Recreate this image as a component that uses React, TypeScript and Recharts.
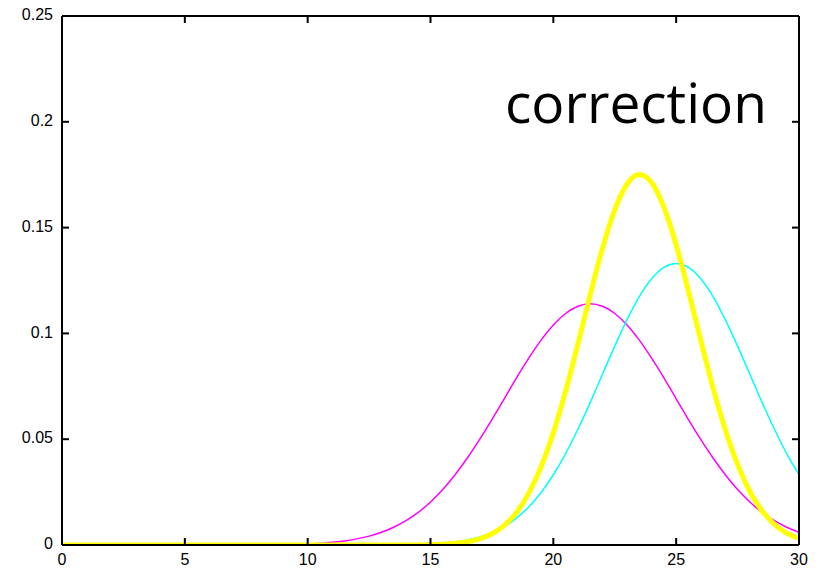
import React from 'react';
import { LineChart, Line, XAxis, YAxis } from 'recharts';

const xValues: number[] = [
  0, 0.5, 1, 1.5, 2, 2.5, 3, 3.5, 4, 4.5, 5, 5.5, 6, 6.5, 7, 7.5, 8, 8.5, 9, 9.5,
  10, 10.5, 11, 11.5, 12, 12.5, 13, 13.5, 14, 14.5, 15, 15.5, 16, 16.5, 17, 17.5, 18, 18.5, 19, 19.5,
  20, 20.5, 21, 21.5, 22, 22.5, 23, 23.5, 24, 24.5, 25, 25.5, 26, 26.5, 27, 27.5, 28, 28.5, 29, 29.5, 30,
];

const magentaValues: number[] = [
  0, 0, 0, 0, 0, 0, 0, 0, 0, 0, 0, 0, 0, 0, 0, 0, 0, 0, 0.0002, 0.0003,
  0.0005, 0.0008, 0.0013, 0.0019, 0.0029, 0.0042, 0.006, 0.0084, 0.0115, 0.0154, 0.0203, 0.0262, 0.0332, 0.0411, 0.0499, 0.0593, 0.0691, 0.079, 0.0883, 0.0968,
  0.104, 0.1094, 0.1128, 0.114, 0.1128, 0.1094, 0.104, 0.0968, 0.0883, 0.079, 0.0691, 0.0593, 0.0499, 0.0411, 0.0332, 0.0262, 0.0203, 0.0154, 0.0115, 0.0084, 0.006,
];

const cyanValues: number[] = [
  0, 0, 0, 0, 0, 0, 0, 0, 0, 0, 0, 0, 0, 0, 0, 0, 0, 0, 0, 0,
  0, 0, 0, 0, 0, 0, 0, 0, 0.0002, 0.0003, 0.0005, 0.0009, 0.0015, 0.0024, 0.0038, 0.0058, 0.0087, 0.0127, 0.018, 0.0248,
  0.0332, 0.0432, 0.0547, 0.0673, 0.0807, 0.094, 0.1065, 0.1174, 0.1258, 0.1312, 0.133, 0.1312, 0.1258, 0.1174, 0.1065, 0.094, 0.0807, 0.0673, 0.0547, 0.0432, 0.0332,
];

const yellowValues: number[] = [
  0, 0, 0, 0, 0, 0, 0, 0, 0, 0, 0, 0, 0, 0, 0, 0, 0, 0, 0, 0,
  0, 0, 0, 0, 0, 0, 0, 0, 0, 0, 0.0002, 0.0004, 0.0008, 0.0015, 0.0029, 0.0053, 0.0093, 0.0154, 0.0245, 0.0369,
  0.0531, 0.0727, 0.095, 0.1182, 0.1402, 0.1584, 0.1706, 0.1751, 0.1713, 0.1596, 0.1418, 0.12, 0.0968, 0.0744, 0.0545, 0.0381, 0.0253, 0.0161, 0.0097, 0.0056, 0.0031,
];

const xTicks: number[] = [0, 5, 10, 15, 20, 25, 30];
const yTicks: number[] = [0, 0.05, 0.1, 0.15, 0.2, 0.25];
const yTickLabels: string[] = ['0', '0.05', '0.1', '0.15', '0.2', '0.25'];
const annotation = 'correction';

const data = xValues.map((x, i) => ({
  x,
  m: magentaValues[i],
  c: cyanValues[i],
  y: yellowValues[i],
}));

const TICK_LEN = 7;
const labelFont = { fontFamily: '"Liberation Sans", Arial, sans-serif', fontSize: 16, fill: '#000' };

const BottomTick = (props: any) => {
  const { x, y, payload } = props;
  return (
    <g>
      <line x1={x} x2={x} y1={y} y2={y - TICK_LEN} stroke="#000" strokeWidth={2} />
      <text x={x} y={y + 16} textAnchor="middle" dominantBaseline="middle" {...labelFont}>
        {String(payload.value)}
      </text>
    </g>
  );
};

const TopTick = (props: any) => {
  const { x, y } = props;
  return <line x1={x} x2={x} y1={y} y2={y + TICK_LEN} stroke="#000" strokeWidth={2} />;
};

const LeftTick = (props: any) => {
  const { x, y, payload } = props;
  const idx = yTicks.indexOf(payload.value);
  const label = idx >= 0 ? yTickLabels[idx] : String(payload.value);
  return (
    <g>
      <line x1={x} x2={x + TICK_LEN} y1={y} y2={y} stroke="#000" strokeWidth={2} />
      <text x={x - 9} y={y} textAnchor="end" dominantBaseline="middle" {...labelFont}>
        {label}
      </text>
    </g>
  );
};

const RightTick = (props: any) => {
  const { x, y } = props;
  return <line x1={x} x2={x - TICK_LEN} y1={y} y2={y} stroke="#000" strokeWidth={2} />;
};

export default function App() {
  return (
    <div style={{ position: 'absolute', left: 0, top: 0, width: 821, height: 570, background: '#fff' }}>
      <LineChart width={821} height={570} data={data} margin={{ top: 15, right: 21, bottom: 0, left: 0 }}>
        <XAxis
          xAxisId="bottom"
          dataKey="x"
          type="number"
          domain={[0, 30]}
          ticks={xTicks}
          height={25}
          tickSize={0}
          tickMargin={0}
          tickLine={false}
          axisLine={{ stroke: '#000', strokeWidth: 2 }}
          tick={<BottomTick />}
          interval={0}
          allowDataOverflow
        />
        <XAxis
          xAxisId="top"
          orientation="top"
          dataKey="x"
          type="number"
          domain={[0, 30]}
          ticks={xTicks}
          height={1}
          tickSize={0}
          tickMargin={0}
          tickLine={false}
          axisLine={{ stroke: '#000', strokeWidth: 2 }}
          tick={<TopTick />}
          interval={0}
          allowDataOverflow
        />
        <YAxis
          yAxisId="left"
          type="number"
          domain={[0, 0.25]}
          ticks={yTicks}
          width={62}
          tickSize={0}
          tickMargin={0}
          tickLine={false}
          axisLine={{ stroke: '#000', strokeWidth: 2 }}
          tick={<LeftTick />}
          interval={0}
          allowDataOverflow
        />
        <YAxis
          yAxisId="right"
          orientation="right"
          type="number"
          domain={[0, 0.25]}
          ticks={yTicks}
          width={1}
          tickSize={0}
          tickMargin={0}
          tickLine={false}
          axisLine={{ stroke: '#000', strokeWidth: 2 }}
          tick={<RightTick />}
          interval={0}
          allowDataOverflow
        />
        <Line
          xAxisId="bottom"
          yAxisId="left"
          dataKey="m"
          type="monotone"
          stroke="#ff00ff"
          strokeWidth={1.5}
          dot={false}
          activeDot={false}
          isAnimationActive={false}
        />
        <Line
          xAxisId="top"
          yAxisId="right"
          dataKey="c"
          type="monotone"
          stroke="#00ffff"
          strokeWidth={1.5}
          dot={false}
          activeDot={false}
          isAnimationActive={false}
        />
        <Line
          xAxisId="bottom"
          yAxisId="left"
          dataKey="y"
          type="monotone"
          stroke="#ffff00"
          strokeWidth={5}
          dot={false}
          activeDot={false}
          isAnimationActive={false}
        />
        <text
          x={505}
          y={123}
          fontFamily='"Open Sans", sans-serif'
          fontSize={55}
          fill="#000"
        >
          {annotation}
        </text>
      </LineChart>
    </div>
  );
}
